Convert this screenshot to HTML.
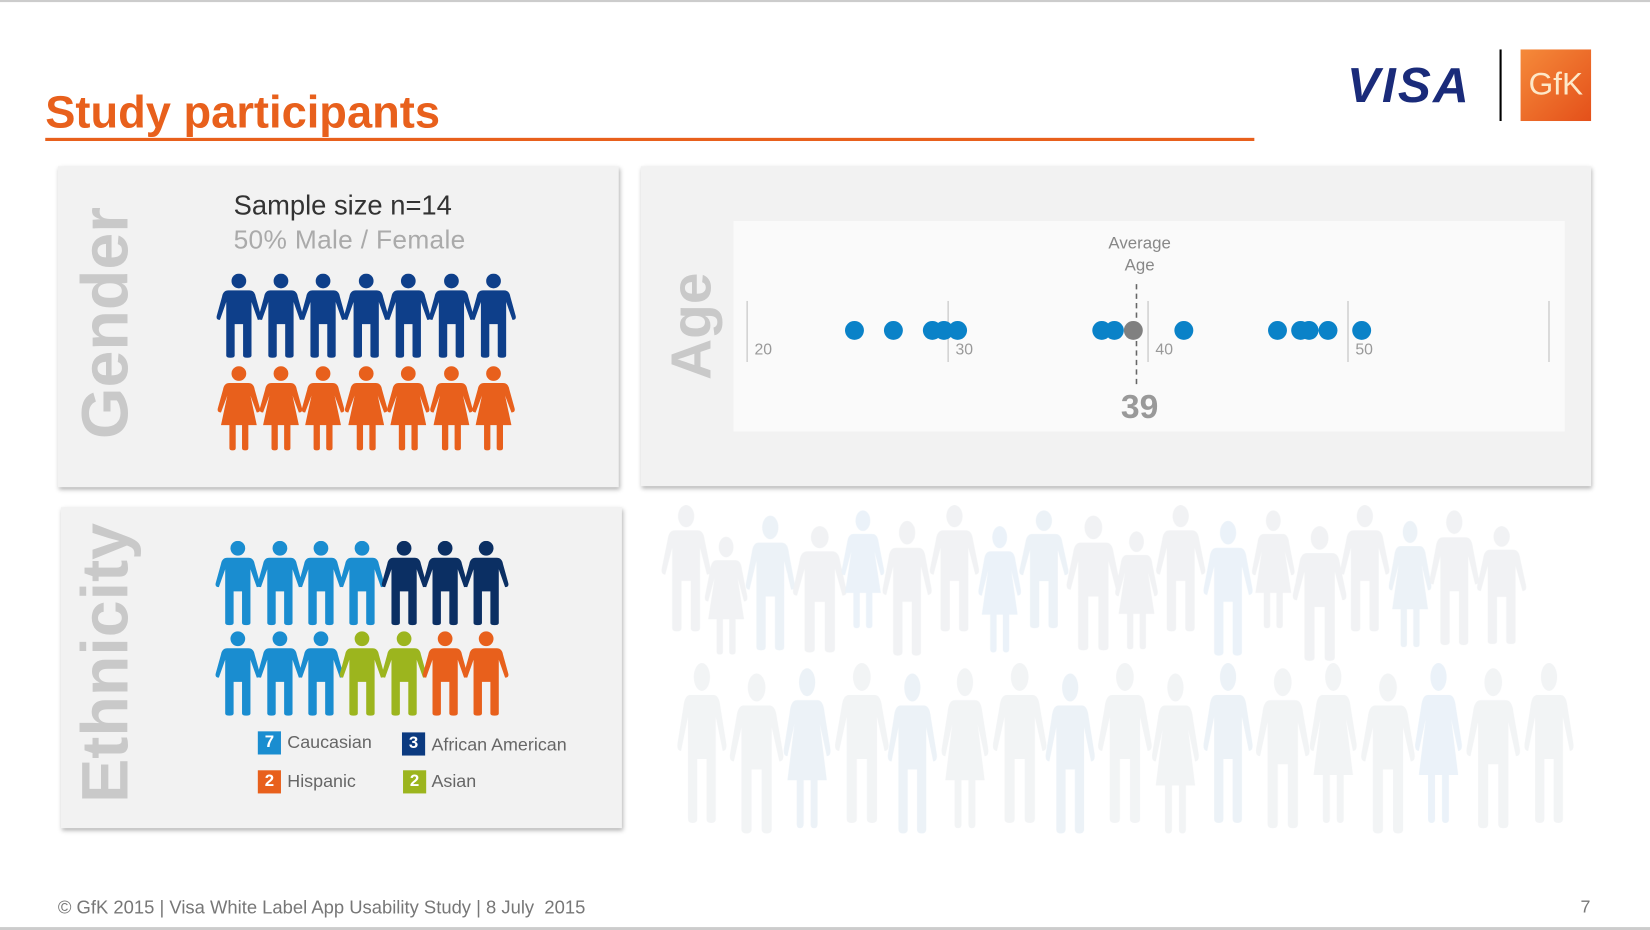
<!DOCTYPE html>
<html><head><meta charset="utf-8"><style>
html,body{margin:0;padding:0;background:#fff;width:1650px;height:930px;overflow:hidden}
#w{position:absolute;left:0;top:0;width:1568px;height:884px;transform:scale(1.0523);transform-origin:0 0;font-family:"Liberation Sans",sans-serif}
.p{position:absolute;background:#f2f2f2;box-shadow:1px 2px 4px rgba(0,0,0,.3)}
.v{position:absolute;color:#c9c9c9;font-weight:bold;transform:rotate(-90deg);transform-origin:center;white-space:nowrap;text-align:center}
.a{position:absolute;font-size:15px;color:#999}
.sq{position:absolute;width:22px;height:22px;color:#fff;font-weight:bold;font-size:16px;text-align:center;line-height:22px}
.lt{position:absolute;font-size:17px;color:#666}
</style></head><body><div id="w">
<div style="position:absolute;left:0;top:0;width:1568px;height:2px;background:#ccc"></div>
<div style="position:absolute;left:0;top:881px;width:1568px;height:3px;background:#ccc"></div>
<div style="position:absolute;left:43px;top:83px;font-size:43px;font-weight:bold;color:#e8601c">Study participants</div>
<div style="position:absolute;left:43px;top:131px;width:1149px;height:3px;background:#e8601c"></div>
<div style="position:absolute;left:1280px;top:53px;font-size:47px;font-weight:bold;font-style:italic;color:#1a2b7a;letter-spacing:2px">VISA</div>
<div style="position:absolute;left:1425px;top:47px;width:2px;height:68px;background:#000"></div>
<div style="position:absolute;left:1445px;top:47px;width:67px;height:68px;background:linear-gradient(135deg,#f58a3a,#e4501a);color:#fde8c8;font-size:30px;line-height:68px;text-align:center">GfK</div>
<svg width="0" height="0" style="position:absolute"><defs>
<g id="m"><circle cx="20" cy="7" r="7"/><path d="M10,16 H30 Q35,16 36,22 L41,40 Q42,44 38,44 L32,27 V78 Q32,80 28,80 Q24,80 24,78 V48 H16 V78 Q16,80 12,80 Q8,80 8,78 V27 L2,44 Q-2,44 -1,40 L4,22 Q5,16 10,16Z"/></g>
<g id="f"><circle cx="20" cy="7" r="7"/><path d="M11,16 H29 Q34,16 35,22 L40,40 Q41,44 37,44 L31,28 L37,56 H29 V78 Q29,80 26,80 Q23,80 23,78 V56 H17 V78 Q17,80 14,80 Q11,80 11,78 V56 H3 L9,28 L3,44 Q-1,44 0,40 L5,22 Q6,16 11,16Z"/></g>
</defs></svg>
<svg style="position:absolute;left:620px;top:470px" width="900" height="340">
<g opacity="0.75">
<use href="#m" fill="#eceef0" transform="translate(10,10) scale(1.1,1.5)"/>
<use href="#f" fill="#eceef0" transform="translate(50,40) scale(1.0,1.4)"/>
<use href="#m" fill="#e6eef5" transform="translate(90,20) scale(1.1,1.6)"/>
<use href="#m" fill="#eceef0" transform="translate(135,30) scale(1.2,1.5)"/>
<use href="#f" fill="#e4eef7" transform="translate(180,15) scale(1.0,1.4)"/>
<use href="#m" fill="#eceef0" transform="translate(220,25) scale(1.1,1.6)"/>
<use href="#m" fill="#eceef0" transform="translate(265,10) scale(1.1,1.5)"/>
<use href="#f" fill="#e4eef7" transform="translate(310,30) scale(1.0,1.5)"/>
<use href="#m" fill="#e6eef5" transform="translate(350,15) scale(1.1,1.4)"/>
<use href="#m" fill="#eceef0" transform="translate(395,20) scale(1.2,1.6)"/>
<use href="#f" fill="#eceef0" transform="translate(440,35) scale(1.0,1.4)"/>
<use href="#m" fill="#eceef0" transform="translate(480,10) scale(1.1,1.5)"/>
<use href="#m" fill="#e4eef7" transform="translate(525,25) scale(1.1,1.6)"/>
<use href="#f" fill="#eceef0" transform="translate(570,15) scale(1.0,1.4)"/>
<use href="#m" fill="#eceef0" transform="translate(610,30) scale(1.2,1.6)"/>
<use href="#m" fill="#eceef0" transform="translate(655,10) scale(1.1,1.5)"/>
<use href="#f" fill="#e6eef5" transform="translate(700,25) scale(1.0,1.5)"/>
<use href="#m" fill="#eceef0" transform="translate(740,15) scale(1.1,1.6)"/>
<use href="#m" fill="#eceef0" transform="translate(785,30) scale(1.1,1.4)"/>
<use href="#m" fill="#eef0f2" transform="translate(25,160) scale(1.1,1.9)"/>
<use href="#m" fill="#eef0f2" transform="translate(75,170) scale(1.2,1.9)"/>
<use href="#f" fill="#e6eef5" transform="translate(125,165) scale(1.1,1.9)"/>
<use href="#m" fill="#eef0f2" transform="translate(175,160) scale(1.2,1.9)"/>
<use href="#m" fill="#e6eef5" transform="translate(225,170) scale(1.1,1.9)"/>
<use href="#f" fill="#eef0f2" transform="translate(275,165) scale(1.1,1.9)"/>
<use href="#m" fill="#eef0f2" transform="translate(325,160) scale(1.2,1.9)"/>
<use href="#m" fill="#e6eef5" transform="translate(375,170) scale(1.1,1.9)"/>
<use href="#m" fill="#eef0f2" transform="translate(425,160) scale(1.2,1.9)"/>
<use href="#f" fill="#eef0f2" transform="translate(475,170) scale(1.1,1.9)"/>
<use href="#m" fill="#e6eef5" transform="translate(525,160) scale(1.1,1.9)"/>
<use href="#m" fill="#eef0f2" transform="translate(575,165) scale(1.2,1.9)"/>
<use href="#f" fill="#eef0f2" transform="translate(625,160) scale(1.1,1.9)"/>
<use href="#m" fill="#eef0f2" transform="translate(675,170) scale(1.2,1.9)"/>
<use href="#f" fill="#e4eef7" transform="translate(725,160) scale(1.1,1.9)"/>
<use href="#m" fill="#eef0f2" transform="translate(775,165) scale(1.2,1.9)"/>
<use href="#m" fill="#eef0f2" transform="translate(830,160) scale(1.1,1.9)"/>
</g></svg>
<div class="p" style="left:55px;top:158px;width:533px;height:305px"></div>
<div class="v" style="left:-20px;top:273px;width:240px;height:68px;font-size:63px;line-height:68px">Gender</div>
<div style="position:absolute;left:222px;top:180px;font-size:26px;color:#333">Sample size n=14</div>
<div style="position:absolute;left:222px;top:214px;font-size:25px;color:#aaa;letter-spacing:0.3px">50% Male / Female</div>
<svg style="position:absolute;left:200px;top:260px" width="300" height="175">
<g fill="#0e3f8a"><use href="#m" x="7"/><use href="#m" x="47"/><use href="#m" x="87"/><use href="#m" x="128"/><use href="#m" x="168"/><use href="#m" x="209"/><use href="#m" x="249"/></g>
<g fill="#e8601c" transform="translate(0,88)"><use href="#f" x="7"/><use href="#f" x="47"/><use href="#f" x="87"/><use href="#f" x="128"/><use href="#f" x="168"/><use href="#f" x="209"/><use href="#f" x="249"/></g>
</svg>
<div class="p" style="left:609px;top:158px;width:903px;height:304px"></div>
<div class="v" style="left:597px;top:280px;width:120px;height:60px;font-size:54px;line-height:60px">Age</div>
<div style="position:absolute;left:697px;top:210px;width:790px;height:200px;background:#fafafa"></div>
<svg style="position:absolute;left:0;top:0" width="1568" height="420">
<g stroke="#c8c8c8" stroke-width="1.2"><line x1="710" y1="286" x2="710" y2="344"/><line x1="901" y1="286" x2="901" y2="344"/><line x1="1091" y1="286" x2="1091" y2="344"/><line x1="1281" y1="286" x2="1281" y2="344"/><line x1="1472" y1="286" x2="1472" y2="344"/></g>
<line x1="1080" y1="270" x2="1080" y2="368" stroke="#666" stroke-width="1.5" stroke-dasharray="5,4"/>
<g fill="#0a82c8"><circle cx="812" cy="314" r="9"/><circle cx="849" cy="314" r="9"/><circle cx="886" cy="314" r="9"/><circle cx="897" cy="314" r="9"/><circle cx="910" cy="314" r="9"/><circle cx="1047" cy="314" r="9"/><circle cx="1059" cy="314" r="9"/><circle cx="1125" cy="314" r="9"/><circle cx="1214" cy="314" r="9"/><circle cx="1236" cy="314" r="9"/><circle cx="1244" cy="314" r="9"/><circle cx="1262" cy="314" r="9"/><circle cx="1294" cy="314" r="9"/></g>
<circle cx="1077" cy="314" r="9" fill="#808080"/>
</svg>
<div class="a" style="left:717px;top:324px">20</div>
<div class="a" style="left:908px;top:324px">30</div>
<div class="a" style="left:1098px;top:324px">40</div>
<div class="a" style="left:1288px;top:324px">50</div>
<div style="position:absolute;left:1033px;top:221px;width:100px;text-align:center;font-size:16px;color:#888;line-height:21px">Average<br>Age</div>
<div style="position:absolute;left:1033px;top:368px;width:100px;text-align:center;font-size:32px;font-weight:bold;color:#999">39</div>
<div class="p" style="left:58px;top:482px;width:533px;height:305px"></div>
<div class="v" style="left:-50px;top:596px;width:300px;height:68px;font-size:63px;line-height:68px">Ethnicity</div>
<svg style="position:absolute;left:200px;top:514px" width="300" height="170">
<g fill="#1a8dd0"><use href="#m" x="6"/><use href="#m" x="46"/><use href="#m" x="85"/><use href="#m" x="124"/></g>
<g fill="#0b2f63"><use href="#m" x="164"/><use href="#m" x="203"/><use href="#m" x="242"/></g>
<g transform="translate(0,86)"><g fill="#1a8dd0"><use href="#m" x="6"/><use href="#m" x="46"/><use href="#m" x="85"/></g>
<g fill="#9cb51e"><use href="#m" x="124"/><use href="#m" x="164"/></g>
<g fill="#e8601c"><use href="#m" x="203"/><use href="#m" x="242"/></g></g>
</svg>
<div class="sq" style="left:245px;top:695px;background:#1a8dd0">7</div><div class="lt" style="left:273px;top:696px">Caucasian</div>
<div class="sq" style="left:382px;top:696px;background:#0b3a80">3</div><div class="lt" style="left:410px;top:698px">African American</div>
<div class="sq" style="left:245px;top:732px;background:#e8601c">2</div><div class="lt" style="left:273px;top:733px">Hispanic</div>
<div class="sq" style="left:383px;top:732px;background:#9cb51e">2</div><div class="lt" style="left:410px;top:733px">Asian</div>
<div style="position:absolute;left:55px;top:852px;font-size:17.5px;color:#777">© GfK 2015 | Visa White Label App Usability Study | 8 July&nbsp; 2015</div>
<div style="position:absolute;left:1502px;top:852px;font-size:17px;color:#777">7</div>
</div></body></html>
